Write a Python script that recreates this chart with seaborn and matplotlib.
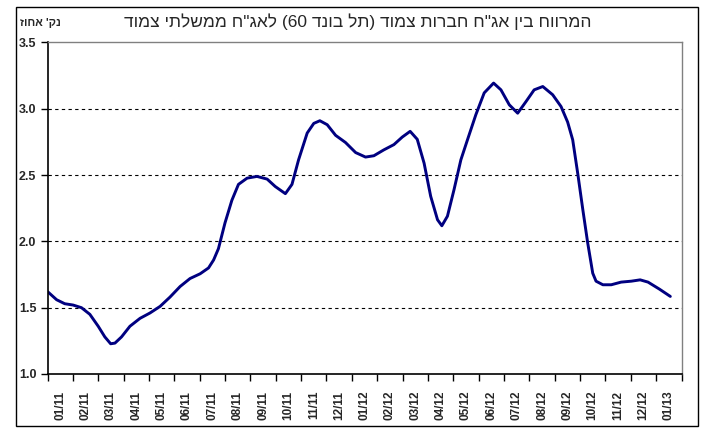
import re

import matplotlib.pyplot as plt
import seaborn as sns
from matplotlib.patches import Rectangle
from matplotlib.ticker import FixedLocator, NullFormatter, FixedFormatter

# months since start of 01/2011
month_pos = [0.0, 0.36, 0.68, 1.01, 1.34, 1.67, 2.0, 2.26, 2.49, 2.66, 2.92,
             3.25, 3.65, 4.04, 4.44, 4.83, 5.23, 5.62, 6.02, 6.35, 6.55, 6.74,
             7.0, 7.27, 7.53, 7.87, 8.26, 8.66, 8.98, 9.38, 9.64, 9.9, 10.24,
             10.5, 10.74, 11.03, 11.36, 11.75, 12.15, 12.54, 12.87, 13.26,
             13.66, 13.99, 14.3, 14.58, 14.85, 15.11, 15.38, 15.55, 15.77,
             16.03, 16.3, 16.56, 16.89, 17.22, 17.59, 17.88, 18.21, 18.54,
             18.87, 19.19, 19.53, 19.92, 20.25, 20.51, 20.71, 20.91, 21.11,
             21.3, 21.5, 21.63, 21.9, 22.23, 22.62, 23.02, 23.37, 23.68,
             24.13, 24.56]
spread = [1.622, 1.56, 1.53, 1.52, 1.50, 1.45, 1.36, 1.28, 1.228, 1.233, 1.28,
          1.36, 1.42, 1.46, 1.51, 1.58, 1.66, 1.72, 1.756, 1.80, 1.86, 1.945,
          2.14, 2.31, 2.43, 2.477, 2.49, 2.47, 2.414, 2.36, 2.43, 2.615, 2.817,
          2.89, 2.91, 2.88, 2.80, 2.746, 2.67, 2.636, 2.646, 2.69,
          2.73, 2.787, 2.83, 2.77, 2.59, 2.34, 2.163, 2.118, 2.19,
          2.39, 2.615, 2.766, 2.955, 3.12, 3.194, 3.143, 3.03, 2.967,
          3.055, 3.143, 3.168, 3.106, 3.017, 2.90, 2.766, 2.51, 2.238,
          1.99, 1.76, 1.70, 1.673, 1.673, 1.693, 1.70, 1.71, 1.693,
          1.64, 1.585]

month_labels = ["01/11", "02/11", "03/11", "04/11", "05/11", "06/11", "07/11",
                "08/11", "09/11", "10/11", "11/11", "12/11", "01/12", "02/12",
                "03/12", "04/12", "05/12", "06/12", "07/12", "08/12", "09/12",
                "10/12", "11/12", "12/12", "01/13"]
y_ticks = [1.0, 1.5, 2.0, 2.5, 3.0, 3.5]

title = 'המרווח בין אג"ח חברות צמוד (תל בונד 60) לאג"ח ממשלתי צמוד'
unit = "נק' אחוז"


def visual(s):
    # matplotlib has no bidi support, so lay the RTL text out by hand
    r = s[::-1]
    r = re.sub(r"\d+", lambda m: m.group(0)[::-1], r)
    return r.translate(str.maketrans("()", ")("))


sns.set_style("white")
plt.rcParams["font.family"] = ["Liberation Sans", "DejaVu Sans"]

fig = plt.figure(figsize=(7.18, 4.36), dpi=100)
ax = fig.add_axes([47.5 / 718, 1 - 374 / 436, (681.5 - 47.5) / 718, (374 - 42.5) / 436])

sns.lineplot(x=month_pos, y=spread, ax=ax, color="#000080", linewidth=2.1,
             sort=False, estimator=None)
for ln in ax.lines:
    ln.set_solid_joinstyle("round")
    ln.set_solid_capstyle("round")

ax.set_xlim(0, len(month_labels))
ax.set_ylim(1.0, 3.5)
ax.set_xlabel("")
ax.set_ylabel("")

for v in y_ticks[1:-1]:
    ax.axhline(v, color="black", lw=0.8, ls=(0, (3, 3)), zorder=0)

ax.xaxis.set_major_locator(FixedLocator(range(len(month_labels) + 1)))
ax.xaxis.set_major_formatter(NullFormatter())
ax.xaxis.set_minor_locator(FixedLocator([i + 0.5 for i in range(len(month_labels))]))
ax.xaxis.set_minor_formatter(FixedFormatter(month_labels))
ax.tick_params(axis="x", which="major", direction="out", length=5, width=1,
               color="black", bottom=True)
ax.tick_params(axis="x", which="minor", length=0, pad=12, labelsize=8.5,
               labelrotation=90)
for lb in ax.get_xticklabels(minor=True):
    lb.set_fontweight("bold")

ax.set_yticks(y_ticks)
ax.set_yticklabels([f"{v:.1f}" for v in y_ticks], fontweight="bold", fontsize=9)
ax.tick_params(axis="y", direction="out", length=5, width=1, color="black",
               left=True, pad=3)

for side in ("left", "bottom"):
    ax.spines[side].set_color("black")
    ax.spines[side].set_linewidth(1.2)
for side in ("top", "right"):
    ax.spines[side].set_color("#808080")
    ax.spines[side].set_linewidth(1.0)

fig.text(357.5 / 718, 1 - 22 / 436, visual(title), ha="center", va="center",
         fontsize=12.5)
fig.text(40.5 / 718, 1 - 23 / 436, visual(unit), ha="center", va="center",
         fontsize=8, fontweight="bold")

fig.patches.append(Rectangle((16 / 718, 1 - 426 / 436), (698 - 16) / 718,
                             (426 - 7) / 436, transform=fig.transFigure,
                             fill=False, ec="black", lw=1))

fig.savefig("out.png", dpi=100)
